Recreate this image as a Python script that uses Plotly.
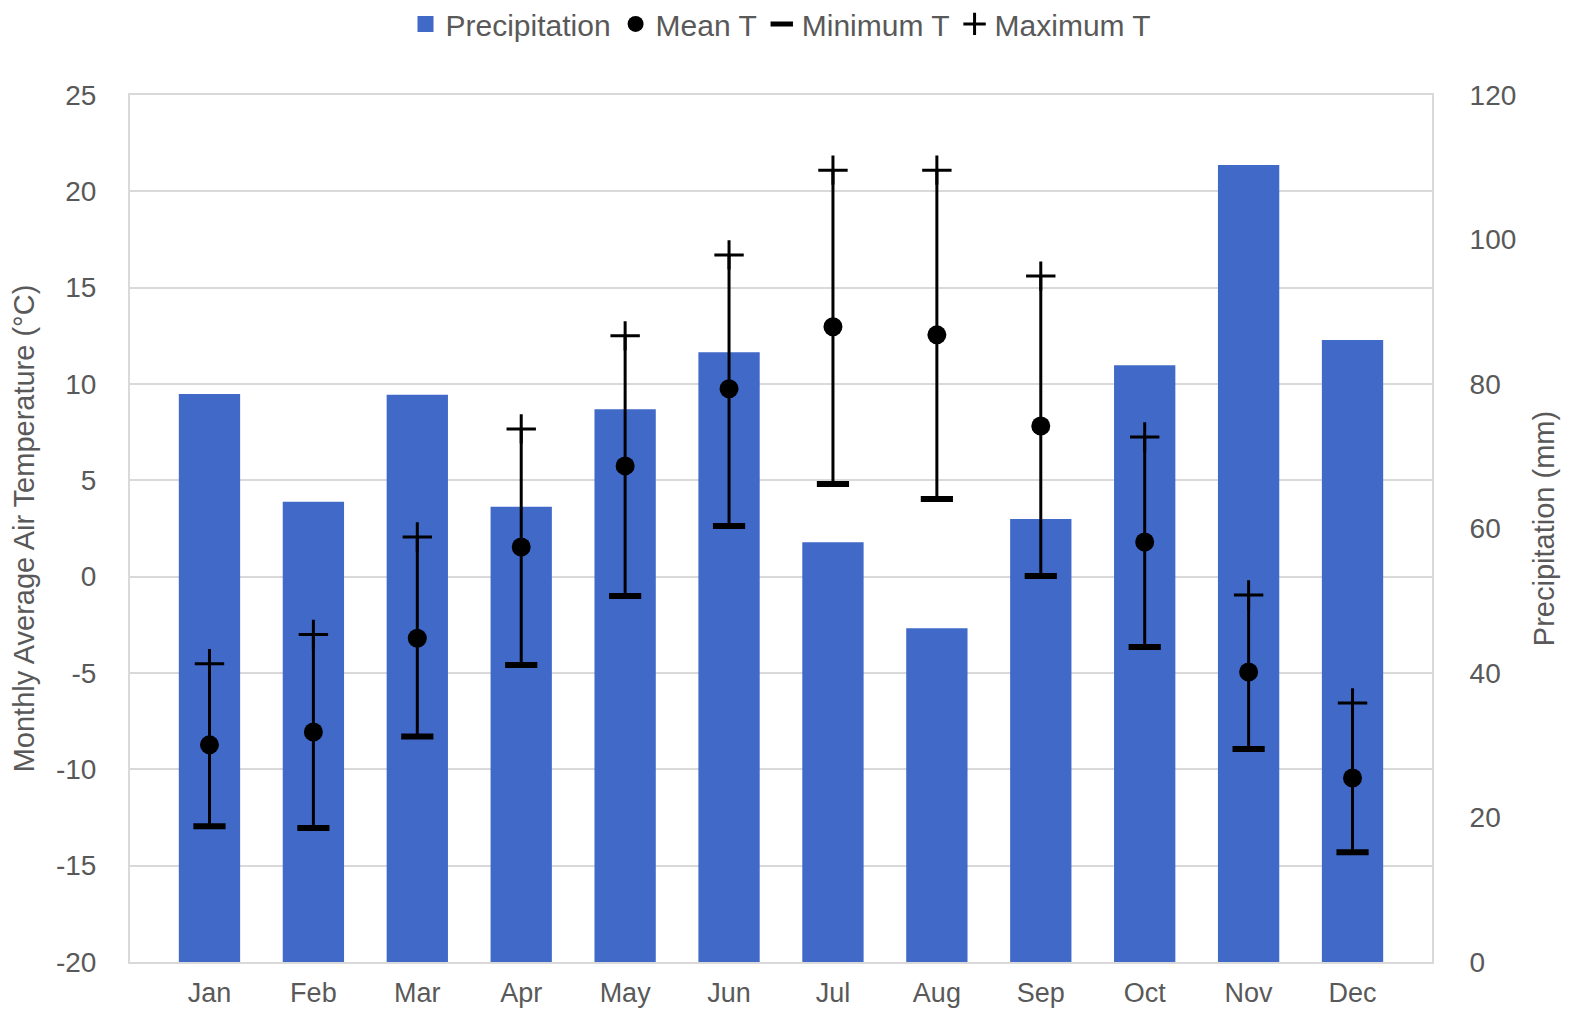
import plotly.graph_objects as go

months = ["Jan", "Feb", "Mar", "Apr", "May", "Jun", "Jul", "Aug", "Sep", "Oct", "Nov", "Dec"]
precip = [78.6, 63.7, 78.5, 63.0, 76.5, 84.4, 58.1, 46.2, 61.3, 82.6, 110.3, 86.1]
mean_t = [-8.73, -8.06, -3.2, 1.54, 5.75, 9.75, 12.97, 12.55, 7.82, 1.80, -4.95, -10.45]
min_t = [-12.95, -13.05, -8.3, -4.58, -1.0, 2.63, 4.81, 4.03, 0.04, -3.65, -8.94, -14.3]
max_t = [-4.52, -3.0, 2.06, 7.67, 12.5, 16.7, 21.1, 21.1, 15.6, 7.25, -0.95, -6.56]
temp_ticks = [25, 20, 15, 10, 5, 0, -5, -10, -15, -20]
precip_ticks = [0, 20, 40, 60, 80, 100, 120]

FONT = "Liberation Sans, Arial, sans-serif"
GRAY = "#595959"
GRID = "#D9D9D9"
BLUE = "#4169C8"

fig = go.Figure()
fig.add_trace(go.Bar(x=months, y=precip, name="Precipitation", marker=dict(color=BLUE, line=dict(width=0)),
                     width=0.59, yaxis="y", showlegend=False))
# legend-only swatch for precipitation (larger square like the reference)
fig.add_trace(go.Scatter(x=[None], y=[None], name="Precipitation", mode="markers", yaxis="y",
                         marker=dict(symbol="square", size=22, color=BLUE)))
fig.add_trace(go.Scatter(
    x=months, y=mean_t, name="Mean T", mode="markers", yaxis="y2",
    marker=dict(symbol="circle", size=19, color="black"),
    error_y=dict(type="data", symmetric=False,
                 array=[mx - m for mx, m in zip(max_t, mean_t)],
                 arrayminus=[m - mn for m, mn in zip(mean_t, min_t)],
                 color="black", thickness=3, width=0)))
fig.add_trace(go.Scatter(x=months, y=min_t, name="Minimum T", mode="markers", yaxis="y2",
                         marker=dict(symbol="line-ew", size=23, color="black", line=dict(width=6, color="black"))))
fig.add_trace(go.Scatter(x=months, y=max_t, name="Maximum T", mode="markers", yaxis="y2",
                         marker=dict(symbol="cross-thin", size=21, color="black", line=dict(width=3, color="black"))))

fig.update_layout(
    width=1569, height=1010,
    paper_bgcolor="white", plot_bgcolor="white",
    margin=dict(l=122, r=145, t=87, b=56, autoexpand=False),
    font=dict(family=FONT, size=28, color=GRAY),
    legend=dict(orientation="h", x=0.5, xanchor="center", y=1.082, yref="paper", yanchor="middle",
                font=dict(size=30, color=GRAY), traceorder="normal", itemsizing="trace",
                tracegroupgap=0, bgcolor="rgba(0,0,0,0)"),
    xaxis=dict(showgrid=False, showline=True, linecolor=GRID, linewidth=2, mirror=True,
               tickfont=dict(size=27, color=GRAY), ticks="", automargin=False, ticklabelstandoff=6),
    yaxis=dict(side="right", range=[0, 120], tickvals=precip_ticks, ticktext=[str(v) for v in precip_ticks],
               showgrid=False, zeroline=False, showline=True, linecolor=GRID, linewidth=2,
               tickfont=dict(size=28, color=GRAY), ticks="", ticklabelstandoff=30, automargin=False,
               title=dict(text="Precipitation (mm)", font=dict(size=29, color=GRAY), standoff=18)),
    yaxis2=dict(side="left", overlaying="y", range=[-20, 25], tickvals=temp_ticks,
                ticktext=[str(v) for v in temp_ticks], showgrid=True, gridcolor=GRID,
                gridwidth=1.5, zeroline=False, showline=True, linecolor=GRID, linewidth=2,
                tickfont=dict(size=28, color=GRAY), ticks="", automargin=False,
                ticklabelstandoff=26,
                title=dict(text="Monthly Average Air Temperature (°C)", font=dict(size=29, color=GRAY), standoff=16)),
    showlegend=True,
)

fig.write_html("out.html")
